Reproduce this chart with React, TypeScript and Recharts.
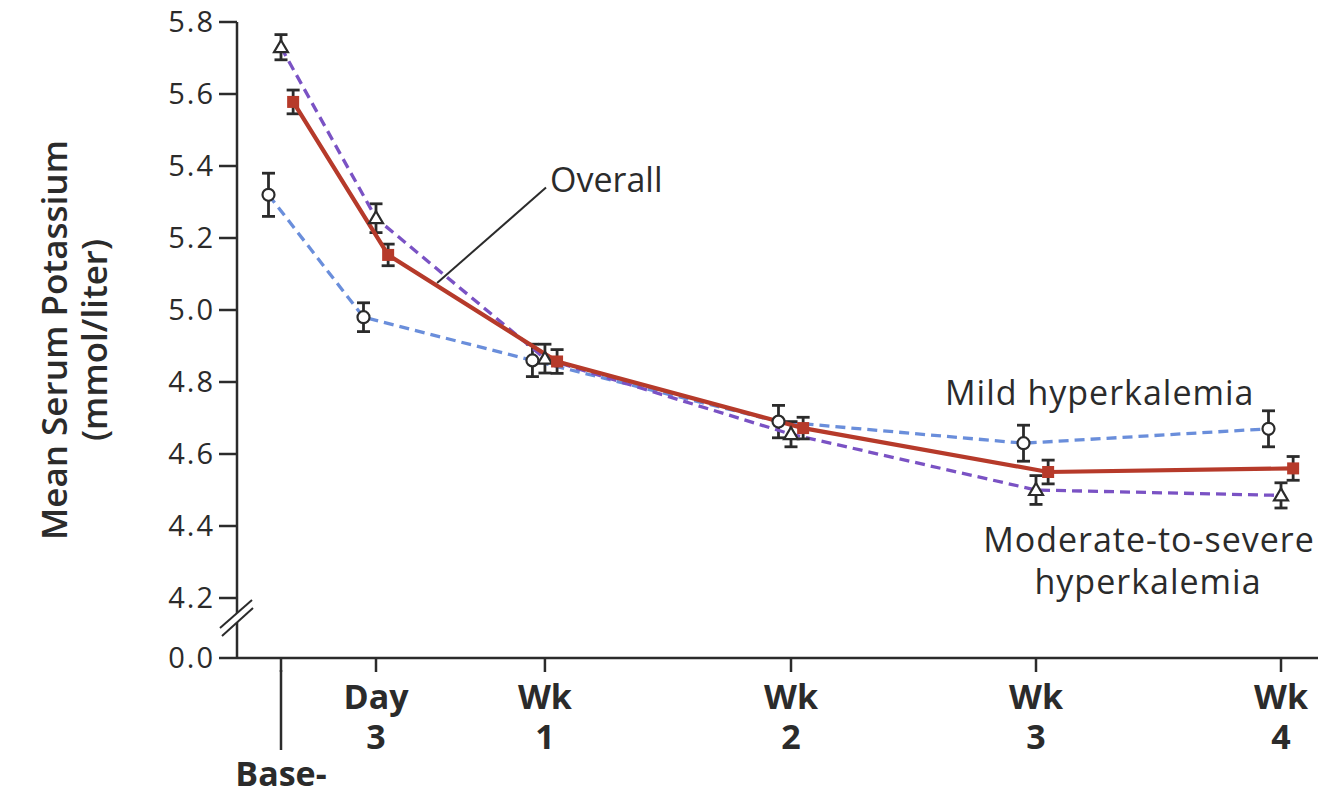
import React from 'react'
import { LineChart, Line, XAxis, YAxis, ErrorBar, ReferenceLine } from 'recharts'

// Study visits; visitX is where each visit sits on the printed time axis (in days),
// the axis is stretched near the start so it is not strictly to scale
const visitLines = [['Base-'], ['Day', '3'], ['Wk', '1'], ['Wk', '2'], ['Wk', '3'], ['Wk', '4']]
const visitX = [0, 2.66, 7.39, 14.28, 21.14, 28]

// mean serum potassium (mmol/liter) and standard error at each visit
const mildMean = [5.32, 4.98, 4.86, 4.69, 4.63, 4.67]
const mildErr = [0.06, 0.04, 0.045, 0.045, 0.05, 0.05]
const severeMean = [5.73, 5.255, 4.865, 4.655, 4.5, 4.485]
const severeErr = [0.035, 0.04, 0.04, 0.035, 0.04, 0.035]
const overallMean = [5.578, 5.153, 4.857, 4.672, 4.55, 4.56]
const overallErr = [0.033, 0.03, 0.033, 0.03, 0.033, 0.033]

const yTicks = [4.2, 4.4, 4.6, 4.8, 5.0, 5.2, 5.4, 5.6, 5.8]

// the axis is broken below 4.2; the 0.0 tick is drawn a short step under it
const Y_FLOOR = 4.2 - (0.2 * 60) / 72
const X_MIN = -1.232
const X_MAX = 29.036

// small sideways shift so the three groups' error bars don't overlap
const MILD_SHIFT = -0.35
const SEVERE_SHIFT = 0
const OVERALL_SHIFT = 0.34

const FONT = '"Open Sans", sans-serif'
const INK = '#2b2b2b'
const RED = '#b63a2a'
const BLUE = '#6a8edb'
const PURPLE = '#7a52c4'

const toPoints = (mean: number[], err: number[], shift: number) =>
  mean.map((v, i) => ({ x: visitX[i] + shift, y: v, err: err[i] }))

const mildData = toPoints(mildMean, mildErr, MILD_SHIFT)
const severeData = toPoints(severeMean, severeErr, SEVERE_SHIFT)
const overallData = toPoints(overallMean, overallErr, OVERALL_SHIFT)

const CircleDot = (p: any) => (
  <circle key={`c${p.index}`} cx={p.cx} cy={p.cy} r={6} fill="#fff" stroke={INK} strokeWidth={2.2} />
)

const TriangleDot = (p: any) => (
  <path
    key={`t${p.index}`}
    d={`M${p.cx},${p.cy - 7} L${p.cx + 7},${p.cy + 5} L${p.cx - 7},${p.cy + 5} Z`}
    fill="#fff"
    stroke={INK}
    strokeWidth={2.2}
  />
)

const SquareDot = (p: any) => (
  <rect key={`s${p.index}`} x={p.cx - 6} y={p.cy - 6} width={12} height={12} fill={RED} />
)

const PotassiumTick = (props: any) => {
  const { x, y, payload } = props
  const label = payload.value === Y_FLOOR ? '0.0' : payload.value.toFixed(1)
  return (
    <text x={x} y={y} dy={10} textAnchor="end" fontFamily={FONT} fontSize={29} fill={INK} letterSpacing={2}>
      {label}
    </text>
  )
}

const VisitTick = (props: any) => {
  const { x, y, payload } = props
  const i = visitX.indexOf(payload.value)
  const lines = visitLines[i] ?? []
  if (i === 0) {
    return (
      <g>
        <line x1={x} y1={y - 2} x2={x} y2={y + 78} stroke={INK} strokeWidth={2.5} />
        <text x={x} y={y + 114} textAnchor="middle" fontFamily={FONT} fontWeight={700} fontSize={34} fill={INK}>
          {lines[0]}
        </text>
      </g>
    )
  }
  return (
    <text x={x} y={y + 37} textAnchor="middle" fontFamily={FONT} fontWeight={700} fontSize={34} fill={INK}>
      {lines.map((t, k) => (
        <tspan key={k} x={x} dy={k === 0 ? 0 : 40}>
          {t}
        </tspan>
      ))}
    </text>
  )
}

export default function App() {
  const width = 1318
  const height = 784
  return (
    <div style={{ position: 'relative', width, height }}>
      <LineChart width={width} height={height} margin={{ top: 14, right: 8, bottom: 14, left: 0 }}>
        <XAxis
          type="number"
          dataKey="x"
          domain={[X_MIN, X_MAX]}
          allowDataOverflow
          ticks={visitX}
          interval={0}
          height={120}
          tickSize={14}
          tickMargin={0}
          tick={<VisitTick />}
          axisLine={{ stroke: INK, strokeWidth: 2.5 }}
          tickLine={{ stroke: INK, strokeWidth: 2.5 }}
        />
        <YAxis
          type="number"
          domain={[Y_FLOOR, 5.8]}
          allowDataOverflow
          ticks={[Y_FLOOR, ...yTicks]}
          interval={0}
          width={229}
          tickSize={18}
          tickMargin={4}
          tick={<PotassiumTick />}
          axisLine={{ stroke: INK, strokeWidth: 2.5 }}
          tickLine={{ stroke: INK, strokeWidth: 2.5 }}
        />
        <ReferenceLine
          segment={[
            { x: 4.37, y: 5.075 },
            { x: 7.42, y: 5.34 },
          ]}
          stroke={INK}
          strokeWidth={2}
          ifOverflow="visible"
        />
        <Line
          data={mildData}
          dataKey="y"
          type="linear"
          stroke={BLUE}
          strokeWidth={3.3}
          strokeDasharray="10 6"
          dot={CircleDot}
          activeDot={false}
          isAnimationActive={false}
        >
          <ErrorBar dataKey="err" direction="y" width={6.5} stroke={INK} strokeWidth={2.8} />
        </Line>
        <Line
          data={severeData}
          dataKey="y"
          type="linear"
          stroke={PURPLE}
          strokeWidth={3.3}
          strokeDasharray="10 6"
          dot={TriangleDot}
          activeDot={false}
          isAnimationActive={false}
        >
          <ErrorBar dataKey="err" direction="y" width={6.5} stroke={INK} strokeWidth={2.8} />
        </Line>
        <Line
          data={overallData}
          dataKey="y"
          type="linear"
          stroke={RED}
          strokeWidth={4.2}
          dot={SquareDot}
          activeDot={false}
          isAnimationActive={false}
        >
          <ErrorBar dataKey="err" direction="y" width={6.5} stroke={INK} strokeWidth={2.8} />
        </Line>
      </LineChart>
      <svg
        width={width}
        height={height}
        style={{ position: 'absolute', left: 0, top: 0, pointerEvents: 'none' }}
        fontFamily={FONT}
        fill={INK}
      >
        {/* axis break marks */}
        <polygon points="212,620 244,592 245,600 214,628" fill="#fff" />
        <line x1={212} y1={620} x2={244} y2={592} stroke={INK} strokeWidth={2} />
        <line x1={214} y1={628} x2={245} y2={600} stroke={INK} strokeWidth={2} />

        <g transform="translate(47,332) rotate(-90)">
          <text textAnchor="middle" y={12} fontSize={34} fontWeight={600} textLength={400} lengthAdjust="spacingAndGlyphs">
            Mean Serum Potassium
          </text>
        </g>
        <g transform="translate(87,332) rotate(-90)">
          <text textAnchor="middle" y={12} fontSize={34} fontWeight={600} textLength={202} lengthAdjust="spacingAndGlyphs">
            (mmol/liter)
          </text>
        </g>

        <text x={542} y={184} fontSize={34}>
          Overall
        </text>
        <text x={937} y={397} fontSize={34} letterSpacing={1}>
          Mild hyperkalemia
        </text>
        <text x={1141} y={544} fontSize={34} textAnchor="middle" letterSpacing={1}>
          Moderate-to-severe
        </text>
        <text x={1140} y={586} fontSize={34} textAnchor="middle" letterSpacing={1}>
          hyperkalemia
        </text>
      </svg>
    </div>
  )
}
